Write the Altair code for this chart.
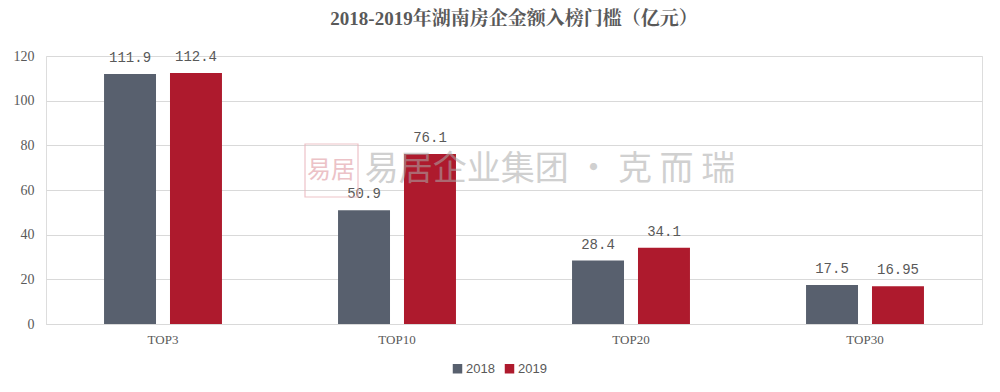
import altair as alt
import pandas as pd

categories = ["TOP3", "TOP10", "TOP20", "TOP30"]
years = ["2018", "2019"]
values_2018 = [111.9, 50.9, 28.4, 17.5]
values_2019 = [112.4, 76.1, 34.1, 16.95]

rows = []
for c, a, b in zip(categories, values_2018, values_2019):
    rows.append({"cat": c, "year": "2018", "value": a})
    rows.append({"cat": c, "year": "2019", "value": b})
df = pd.DataFrame(rows)

SERIF = "Liberation Serif, Noto Serif CJK SC, Noto Sans CJK SC"
GRAY = "#595959"

xenc = alt.X("cat:N", sort=categories, title=None,
             scale=alt.Scale(paddingInner=0.496, paddingOuter=0.248),
             axis=alt.Axis(labelAngle=0, labelFont=SERIF, labelFontSize=13, labelColor=GRAY,
                           domainColor="#d9d9d9", ticks=False, labelPadding=9, grid=False))
xoff = alt.XOffset("year:N", scale=alt.Scale(paddingInner=0.212, paddingOuter=0))

color = alt.Color("year:N", scale=alt.Scale(domain=years, range=["#58606e", "#ae1a2d"]),
                  legend=alt.Legend(title=None, orient="none", legendX=405, legendY=306,
                                    direction="horizontal", symbolType="square", symbolSize=90,
                                    labelFont="Liberation Sans", labelFontSize=13, labelColor=GRAY,
                                    columnPadding=8, labelOffset=2, symbolStrokeWidth=0))

base = alt.Chart(df)
bars = base.mark_bar().encode(
    x=xenc, xOffset=xoff,
    y=alt.Y("value:Q", title=None, scale=alt.Scale(domain=[0, 120]),
            axis=alt.Axis(values=[0, 20, 40, 60, 80, 100, 120], domain=False, ticks=False,
                          gridColor="#d9d9d9", labelFont=SERIF, labelFontSize=14,
                          labelColor=GRAY, labelPadding=12)),
    color=color,
)
labels = base.mark_text(dy=-16, font="Liberation Mono", fontSize=14, color=GRAY).encode(
    x=alt.X("cat:N", sort=categories), xOffset=xoff,
    y="value:Q", text="value:Q",
)

wm = alt.Chart(pd.DataFrame({"t": ["易居企业集团 • 克  而  瑞"]})).mark_text(
    font="Noto Sans CJK SC", fontSize=34, color="#aaaaaa", opacity=0.55, align="center", baseline="middle"
).encode(x=alt.value(504), y=alt.value(114), text="t:N")
logo_box = alt.Chart(pd.DataFrame({"a": [0]})).mark_rect(
    fill="white", fillOpacity=0.0, stroke="#eab5bb", strokeWidth=1.2, opacity=0.8
).encode(x=alt.value(259), x2=alt.value(312), y=alt.value(88), y2=alt.value(141))
logo_txt = alt.Chart(pd.DataFrame({"t": ["易居"]})).mark_text(
    font="Noto Sans CJK SC", fontSize=24, color="#e09aa3", opacity=0.6, align="center", baseline="middle"
).encode(x=alt.value(285), y=alt.value(115), text="t:N")

chart = alt.layer(bars, labels, wm, logo_box, logo_txt).properties(
    width=936, height=268,
    title=alt.TitleParams("2018-2019年湖南房企金额入榜门槛（亿元）", font=SERIF, fontSize=19,
                          fontWeight="bold", color=GRAY, anchor="middle", offset=20),
    autosize=alt.AutoSizeParams(type="none"),
    padding={"left": 38, "top": 48, "right": 10, "bottom": 60},
).configure_view(stroke=None).configure(background="white")

chart.save("out.html", embed_options={"renderer": "svg", "actions": False})
